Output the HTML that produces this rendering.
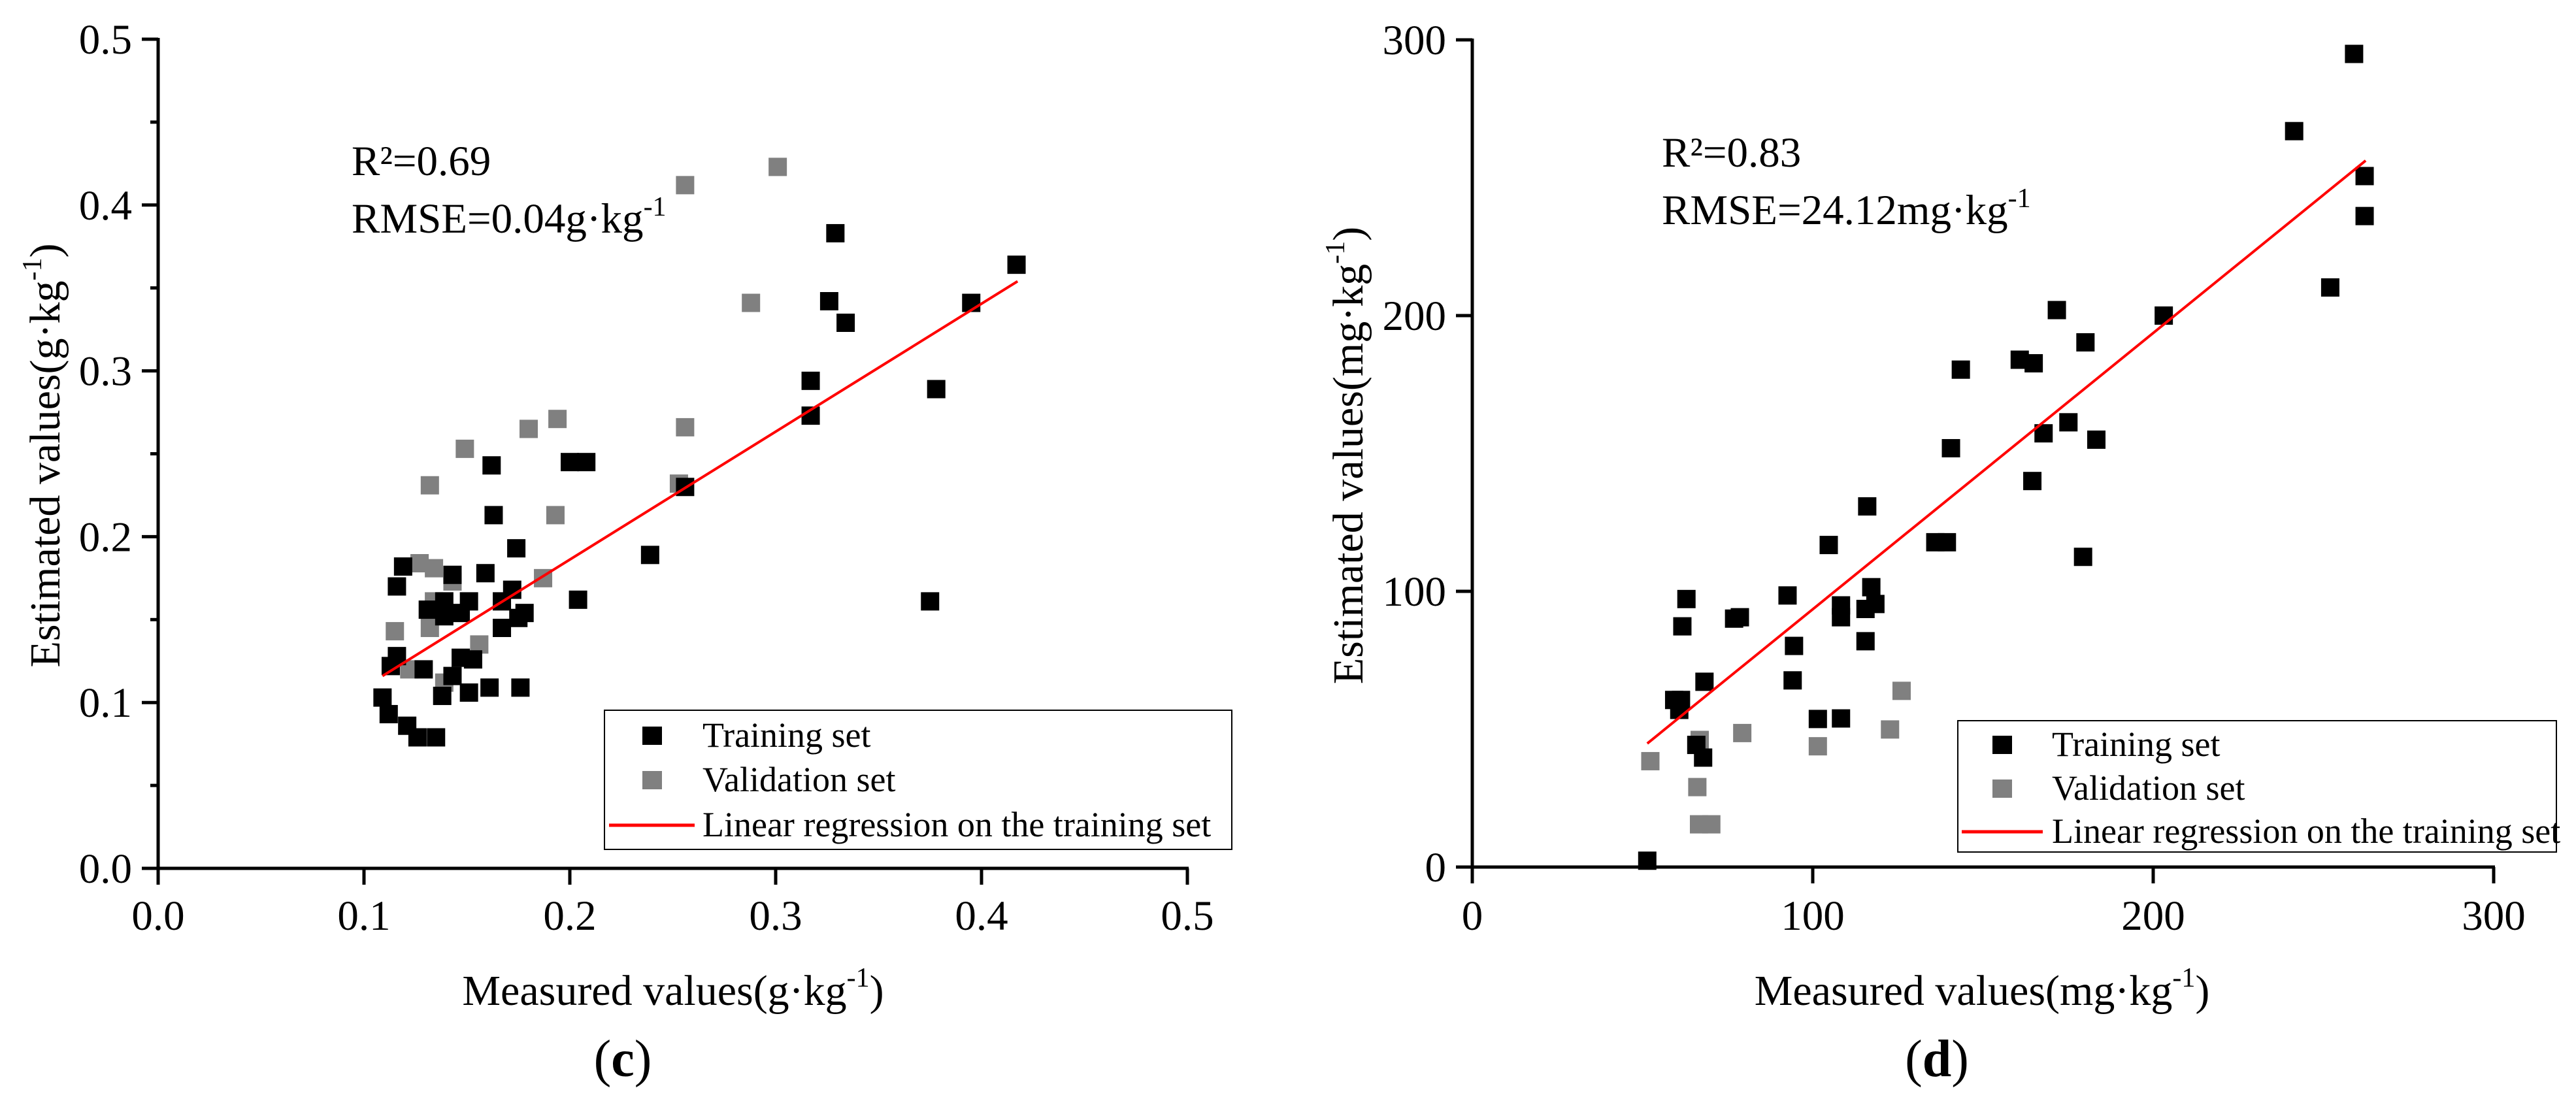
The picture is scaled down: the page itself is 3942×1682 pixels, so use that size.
<!DOCTYPE html>
<html><head><meta charset="utf-8">
<style>
html,body{margin:0;padding:0;background:#fff;}
svg{display:block;font-family:"Liberation Serif",serif;}
</style></head>
<body>
<svg id="fig" width="3942" height="1682" viewBox="0 0 3942 1682" xmlns="http://www.w3.org/2000/svg"></svg>
<script>
// ---- Panel (c) data ----
const cTrainX = [0.417,0.329,0.326,0.334,0.395,0.317,0.317,0.378,0.375,0.256,0.239,0.200,0.208,0.204,0.162,0.163,0.174,0.159,0.172,0.167,0.167,0.175,0.178,0.176,0.161,0.151,0.153,0.147,0.143,0.138,0.135,0.126,0.121,0.112,0.109,0.113,0.116,0.116,0.119,0.129,0.139,0.151,0.147,0.139,0.131,0.143];
const cTrainY = [0.364,0.383,0.342,0.329,0.341,0.294,0.273,0.289,0.161,0.230,0.189,0.245,0.245,0.162,0.243,0.213,0.193,0.178,0.168,0.161,0.145,0.151,0.154,0.109,0.109,0.106,0.126,0.127,0.116,0.104,0.079,0.079,0.086,0.093,0.103,0.122,0.128,0.170,0.182,0.120,0.161,0.161,0.154,0.152,0.156,0.177];
const cValX = [0.301,0.256,0.288,0.194,0.180,0.256,0.149,0.132,0.253,0.193,0.187,0.127,0.134,0.143,0.134,0.132,0.115,0.156,0.122,0.139];
const cValY = [0.423,0.412,0.341,0.271,0.265,0.266,0.253,0.231,0.232,0.213,0.175,0.184,0.181,0.173,0.161,0.145,0.143,0.135,0.120,0.112];
const cLineX = [0.109,0.4175];
const cLineY = [0.116,0.354];
const cTicks = ["0.0","0.1","0.2","0.3","0.4","0.5"];
const cTickVals = [0,0.1,0.2,0.3,0.4,0.5];

// ---- Panel (d) data ----
const dTrainX = [259.0,241.4,262.1,262.1,252.0,171.7,203.1,180.1,160.8,164.9,143.5,175.1,167.8,183.3,140.6,164.5,116.0,104.7,136.0,139.4,179.4,92.6,62.9,117.2,118.4,115.5,108.3,108.3,76.9,78.6,61.7,94.5,115.5,94.1,68.2,59.3,61.3,60.8,101.5,108.3,65.8,67.8,51.4];
const dTrainY = [294.9,266.9,250.6,236.1,210.2,202.0,200.0,190.3,184.0,182.7,180.4,161.3,157.3,155.0,151.9,140.0,130.8,116.8,117.8,117.8,112.5,98.5,97.2,101.5,95.4,93.6,94.9,90.6,90.1,90.6,87.3,80.2,81.9,67.7,67.2,60.6,60.6,57.0,53.7,53.9,44.3,39.7,2.3];
const dValX = [52.3,66.8,79.3,101.5,122.7,126.1,66.1,66.6,70.2];
const dValY = [38.4,46.1,48.6,43.8,49.9,63.9,29.0,15.5,15.5];
const dLineX = [51.4,262.4];
const dLineY = [44.8,256.2];
const dTicks = ["0","100","200","300"];
const dTickVals = [0,100,200,300];

const NS="http://www.w3.org/2000/svg";
const svg=document.getElementById('fig');
function el(tag,attrs,parent){const e=document.createElementNS(NS,tag);for(const k in attrs)e.setAttribute(k,attrs[k]);(parent||svg).appendChild(e);return e;}

function panel(o){
  const g=el('g',{});
  
  
  const sx=v=>o.x0+(v-o.min)/(o.max-o.min)*(o.x1-o.x0);
  const sy=v=>o.y0-(v-o.min)/(o.max-o.min)*(o.y0-o.y1);
  // axes
  const ax=el('line',{x1:o.x0,y1:o.y0,x2:o.x1+2,y2:o.y0,stroke:'#000','stroke-width':5},g);
  
  
  const ay=el('line',{x1:o.x0,y1:o.y0+2,x2:o.x0,y2:o.y1-2,stroke:'#000','stroke-width':5},g);
  
  
  o.tickVals.forEach((v,i)=>{
    const X=sx(v),Y=sy(v);
    el('line',{x1:X,y1:o.y0,x2:X,y2:o.y0+25,stroke:'#000','stroke-width':5},g);
    const tx=el('text',{x:X,y:1423,'font-size':65,'text-anchor':'middle'},g);
    tx.textContent=o.ticks[i];
    
    
    el('line',{x1:o.x0-25,y1:Y,x2:o.x0,y2:Y,stroke:'#000','stroke-width':5},g);
    const ty=el('text',{x:o.x0-40,y:Y+22,'font-size':65,'text-anchor':'end'},g);
    ty.textContent=o.ticks[i];
    
    
    if(o.minor && i<o.tickVals.length-1){
      const m=sy((v+o.tickVals[i+1])/2);
      el('line',{x1:o.x0-12,y1:m,x2:o.x0,y2:m,stroke:'#000','stroke-width':5},g);
    }
  });
  // points
  const S=28;
  o.valX.forEach((v,i)=>{
    const r=el('rect',{x:sx(v)-S/2,y:sy(o.valY[i])-S/2,width:S,height:S,fill:'#808080'},g);
    
    
  });
  o.trainX.forEach((v,i)=>{
    const r=el('rect',{x:sx(v)-S/2,y:sy(o.trainY[i])-S/2,width:S,height:S,fill:'#000'},g);
    
    
  });
  const ln=el('line',{x1:sx(o.lineX[0]),y1:sy(o.lineY[0]),x2:sx(o.lineX[1]),y2:sy(o.lineY[1]),stroke:'#ff0000','stroke-width':4},g);
  
  
  // annotation
  const r2=el('text',{x:o.annX,y:o.annY,'font-size':65},g);
  r2.textContent=o.r2;
  
  
  const rm=el('text',{x:o.annX,y:o.annY+88,'font-size':65},g);
  rm.innerHTML=o.rmse+'<tspan dy="-26" font-size="42">-1</tspan>';
  
  
  // legend
  const L=o.leg;
  const lg=el('g',{},g);
  
  
  el('rect',{x:L.x,y:L.y,width:L.w,height:L.h,fill:'#fff',stroke:'#000','stroke-width':2},lg);
  el('rect',{x:L.mx-15,y:L.r1-14,width:30,height:28,fill:'#000'},lg);
  el('rect',{x:L.mx-15,y:L.r2-14,width:30,height:28,fill:'#808080'},lg);
  el('line',{x1:L.lx1,y1:L.r3,x2:L.lx2,y2:L.r3,stroke:'#ff0000','stroke-width':5},lg);
  [['Training set',L.r1],['Validation set',L.r2],['Linear regression on the training set',L.r3]].forEach(([t,yy],k)=>{
    const tt=el('text',{x:L.tx,y:yy+(k==2?17:17),'font-size':54},lg);
    tt.textContent=t;
    
    
  });
  // titles
  const xt=el('text',{x:o.xtX,y:1538,'font-size':66,'text-anchor':'middle'},g);
  xt.innerHTML=o.unitX+'<tspan dy="-28" font-size="42">-1</tspan><tspan dy="28">)</tspan>';
  
  
  const yt=el('text',{x:0,y:0,'font-size':66,'text-anchor':'middle',transform:'translate('+o.ytX+','+o.ytY+') rotate(-90)'},g);
  yt.innerHTML=o.unitY+'<tspan dy="-28" font-size="42">-1</tspan><tspan dy="28">)</tspan>';
  
  
  const cap=el('text',{x:o.capX,y:1647,'font-size':80,'text-anchor':'middle'},g);
  cap.innerHTML='(<tspan font-weight="bold">'+o.cap+'</tspan>)';
  
  
}

panel({name:'panel-c',x0:242,x1:1817,y0:1329,y1:60,min:0,max:0.5,ticks:cTicks,tickVals:cTickVals,minor:true,
  trainX:cTrainX,trainY:cTrainY,valX:cValX,valY:cValY,lineX:cLineX,lineY:cLineY,
  annX:538,annY:268,r2:'R²=0.69',rmse:'RMSE=0.04g·kg',
  leg:{x:925,y:1087,w:960,h:213,mx:998,tx:1075,r1:1126,r2:1194,r3:1263,lx1:932,lx2:1063},
  xtX:1030,unitX:'Measured values(g·kg',ytX:91,ytY:697,unitY:'Estimated values(g·kg',capX:953,cap:'c'});
panel({name:'panel-d',x0:2253,x1:3816,y0:1327,y1:61,min:0,max:300,ticks:dTicks,tickVals:dTickVals,minor:false,
  trainX:dTrainX,trainY:dTrainY,valX:dValX,valY:dValY,lineX:dLineX,lineY:dLineY,
  annX:2543,annY:255,r2:'R²=0.83',rmse:'RMSE=24.12mg·kg',
  leg:{x:2996,y:1103,w:916,h:201,mx:3064,tx:3140,r1:1140,r2:1207,r3:1273,lx1:3002,lx2:3126},
  xtX:3033,unitX:'Measured values(mg·kg',ytX:2085,ytY:697,unitY:'Estimated values(mg·kg',capX:2964,cap:'d'});
</script>
</body></html>
